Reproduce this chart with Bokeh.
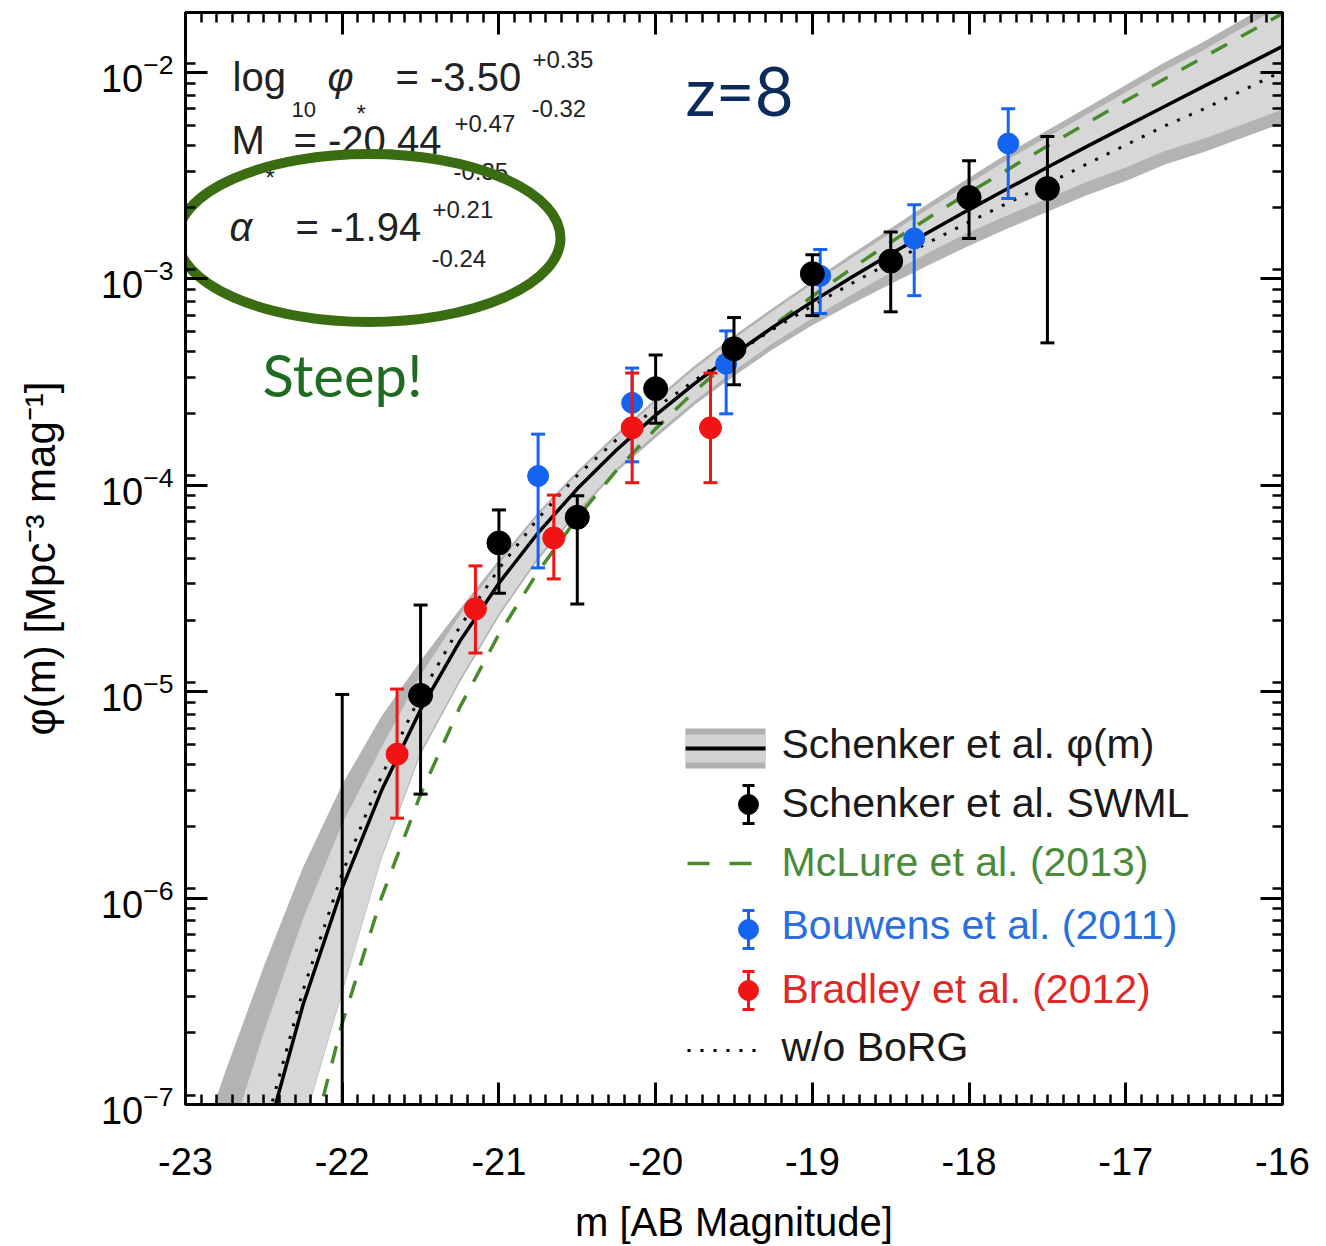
import numpy as np
from bokeh.plotting import figure
from bokeh.models import (Range1d, LinearAxis, LogAxis, LogTicker, SingleIntervalTicker, Label,
                          CustomJSTickFormatter)
from bokeh.embed import file_html
from bokeh.resources import INLINE

FONT = "Liberation Sans"

# ---------------- data ----------------
m_grid = [-23.0, -22.75, -22.5, -22.25, -22.0, -21.75, -21.5, -21.25, -21.0, -20.75,
          -20.5, -20.25, -20.0, -19.75, -19.5, -19.25, -19.0, -18.75, -18.5, -18.25,
          -18.0, -17.75, -17.5, -17.25, -17.0, -16.75, -16.5, -16.25, -16.0]

# Schenker et al. phi(m) best fit (log10 phi)
log_schenker = [-9.09, -8.05, -7.206, -6.517, -5.950, -5.480, -5.087, -4.756, -4.474, -4.230,
                -4.017, -3.829, -3.660, -3.506, -3.365, -3.233, -3.110, -2.992, -2.879, -2.770,
                -2.664, -2.561, -2.459, -2.359, -2.261, -2.163, -2.066, -1.970, -1.873]
# w/o BoRG (dotted)
log_noborg = [-9.02, -7.98, -7.136, -6.447, -5.880, -5.410, -5.017, -4.686, -4.404, -4.160,
              -3.952, -3.779, -3.625, -3.491, -3.365, -3.243, -3.130, -3.022, -2.919, -2.820,
              -2.724, -2.631, -2.539, -2.444, -2.351, -2.258, -2.176, -2.085, -1.993]
# confidence band edges (log10 phi)
band_upper_outer = [-7.40, -6.85, -6.33, -5.85, -5.45, -5.12, -4.85, -4.60, -4.36, -4.13,
                    -3.93, -3.75, -3.58, -3.42, -3.275, -3.14, -3.01, -2.88, -2.754, -2.63,
                    -2.51, -2.39, -2.28, -2.17, -2.06, -1.95, -1.85, -1.74, -1.63]
band_upper_inner = [-7.95, -7.25, -6.65, -6.10, -5.64, -5.27, -4.92, -4.63, -4.38, -4.145,
                    -3.945, -3.765, -3.595, -3.435, -3.29, -3.155, -3.025, -2.90, -2.777, -2.656,
                    -2.538, -2.42, -2.312, -2.204, -2.096, -1.988, -1.89, -1.782, -1.675]
band_lower_inner = [-10.0, -8.5, -7.75, -7.1, -6.45, -5.80, -5.29, -4.94, -4.62, -4.345,
                    -4.125, -3.92, -3.75, -3.59, -3.445, -3.31, -3.19, -3.077, -2.97, -2.87,
                    -2.774, -2.69, -2.61, -2.53, -2.46, -2.38, -2.32, -2.25, -2.18]
band_lower_outer = [-10.01, -8.51, -7.76, -7.11, -6.46, -5.81, -5.305, -4.955, -4.635, -4.36,
                    -4.14, -3.935, -3.77, -3.61, -3.47, -3.34, -3.225, -3.122, -3.025, -2.93,
                    -2.839, -2.755, -2.675, -2.595, -2.525, -2.445, -2.385, -2.315, -2.245]

# McLure et al. (2013) (dashed)
m_mclure = [-22.5, -22.25, -22.0, -21.75, -21.5, -21.25, -21.0, -20.75, -20.5, -20.25,
            -20.0, -19.75, -19.5, -19.25, -19.0, -18.75, -18.5, -18.25, -18.0, -17.75,
            -17.5, -17.25, -17.0, -16.75, -16.5, -16.25, -16.0]
log_mclure = [-8.246, -7.344, -6.606, -5.999, -5.497, -5.076, -4.721, -4.418, -4.157, -3.928,
              -3.726, -3.544, -3.378, -3.226, -3.084, -2.950, -2.822, -2.700, -2.582, -2.468,
              -2.356, -2.246, -2.137, -2.030, -1.924, -1.819, -1.714]

# Schenker et al. SWML points
swml_m = [-22.0, -21.5, -21.0, -20.5, -20.0, -19.5, -19.0, -18.5, -18.0, -17.5]
swml_phi = [3e-8, 9.6e-6, 5.26e-5, 7.0e-5, 2.94e-4, 4.59e-4, 1.06e-3, 1.22e-3, 2.48e-3, 2.74e-3]
swml_hi = [9.7e-6, 2.63e-5, 7.6e-5, 8.9e-5, 4.28e-4, 6.5e-4, 1.31e-3, 1.69e-3, 3.74e-3, 4.9e-3]
swml_lo = [1e-9, 3.19e-6, 3.0e-5, 2.66e-5, 2.0e-4, 3.07e-4, 6.64e-4, 6.93e-4, 1.57e-3, 4.9e-4]

# Bouwens et al. (2011)
bou_m = [-20.75, -20.15, -19.55, -18.95, -18.35, -17.75]
bou_phi = [1.11e-4, 2.51e-4, 3.88e-4, 1.035e-3, 1.57e-3, 4.53e-3]
bou_hi = [1.77e-4, 3.7e-4, 5.6e-4, 1.39e-3, 2.29e-3, 6.68e-3]
bou_lo = [3.98e-5, 1.30e-4, 2.22e-4, 6.8e-4, 8.3e-4, 2.45e-3]

# Bradley et al. (2012)
bra_m = [-21.65, -21.15, -20.65, -20.15, -19.65]
bra_phi = [4.98e-6, 2.52e-5, 5.56e-5, 1.9e-4, 1.9e-4]
bra_hi = [1.03e-5, 4.07e-5, 8.97e-5, 3.5e-4, 3.5e-4]
bra_lo = [2.44e-6, 1.54e-5, 3.52e-5, 1.03e-4, 1.03e-4]

x_label = "m [AB Magnitude]"
y_label = "\u03c6(m) [Mpc\u207b\u00b3 mag\u207b\u00b9]"

# ---------------- figure ----------------
X0, X1 = -23.0, -16.0
Y0, Y1 = 1e-7, 1.954e-2
BL, BT = 185, 12                       # border left / top (px)
FW, FH = 1097, 1092                    # frame size (px)

def dx(px):
    return X0 + (px - BL) / FW * (X1 - X0)

def dy(py):
    l0, l1 = np.log10(Y0), np.log10(Y1)
    return 10 ** (l1 - (py - BT) / FH * (l1 - l0))

p = figure(frame_width=FW, frame_height=FH, x_range=Range1d(X0, X1), y_range=Range1d(Y0, Y1),
           y_axis_type="log", output_backend="svg", toolbar_location=None,
           min_border_left=BL, min_border_right=30, min_border_top=BT, min_border_bottom=100)
p.xgrid.visible = False
p.ygrid.visible = False
p.outline_line_color = "black"
p.outline_line_width = 3
p.background_fill_color = "white"
p.border_fill_color = "white"

def style_axis(ax, labels=True):
    ax.axis_line_width = 3
    ax.axis_line_color = "black"
    ax.major_tick_in = 22
    ax.major_tick_out = 0
    ax.minor_tick_in = 10
    ax.minor_tick_out = 0
    ax.major_tick_line_width = 3
    ax.minor_tick_line_width = 2.5
    ax.major_label_text_font = FONT
    ax.major_label_text_font_size = "38px"
    ax.major_label_text_color = "black"
    ax.axis_label_text_font = FONT
    ax.axis_label_text_font_style = "normal"
    ax.axis_label_text_color = "black"
    if not labels:
        ax.formatter = CustomJSTickFormatter(code="return ''")
        ax.major_label_text_font_size = "1px"
        ax.major_label_standoff = 0

xax = p.xaxis[0]
xax.ticker = SingleIntervalTicker(interval=1, num_minor_ticks=10)
xax.formatter = CustomJSTickFormatter(code="return tick.toFixed(0)")
style_axis(xax)
xax.major_label_standoff = 43
xax.axis_label = x_label
xax.axis_label_text_font_size = "40px"
xax.axis_label_standoff = 22

yax = p.yaxis[0]
yax.ticker = LogTicker(num_minor_ticks=9)
style_axis(yax)
yax.major_label_standoff = 12
yax.axis_label = y_label
yax.axis_label_text_font_size = "42px"
yax.axis_label_standoff = 34

top = LinearAxis(ticker=SingleIntervalTicker(interval=1, num_minor_ticks=10))
style_axis(top, labels=False)
p.add_layout(top, "above")
right = LogAxis(ticker=LogTicker(num_minor_ticks=9))
style_axis(right, labels=False)
p.add_layout(right, "right")

# ---------------- band and curves ----------------
mg = np.array(m_grid)
p.varea(x=mg, y1=10 ** np.array(band_lower_outer), y2=10 ** np.array(band_upper_outer),
        fill_color="#b3b3b3")
p.varea(x=mg, y1=10 ** np.array(band_lower_inner), y2=10 ** np.array(band_upper_inner),
        fill_color="#d7d7d7")

GREEN = "#4a8a2e"
p.line(np.array(m_mclure), 10 ** np.array(log_mclure), line_color=GREEN, line_width=3.5,
       line_dash="18 16")
p.line(mg, 10 ** np.array(log_noborg), line_color="black", line_width=3, line_dash="3 10")
p.line(mg, 10 ** np.array(log_schenker), line_color="black", line_width=3.5)

BLUE = "#1464f0"
RED = "#f01414"

def points(xs, ys, lo, hi, color, size=22):
    p.segment(x0=xs, y0=lo, x1=xs, y1=hi, line_color=color, line_width=3)
    p.scatter(xs, lo, marker="dash", size=14, line_color=color, line_width=3)
    p.scatter(xs, hi, marker="dash", size=14, line_color=color, line_width=3)
    p.scatter(xs, ys, marker="circle", size=size, fill_color=color, line_color=color)

points(bou_m, bou_phi, bou_lo, bou_hi, BLUE, 21)
points(bra_m, bra_phi, bra_lo, bra_hi, RED, 22)
points(swml_m, swml_phi, swml_lo, swml_hi, "black", 24)

# ---------------- parameter text (under the ellipse) ----------------
def lab(text, px, py, size, color="#222222", style="normal", font=FONT, level="underlay"):
    # py is the wanted baseline on the page; correct for the renderer's baseline offset
    yb = py - 0.38 * size
    p.add_layout(Label(x=px - BL, y=(BT + FH) - yb, x_units="screen", y_units="screen",
                       text=text, text_font=font, text_font_size=f"{size}px",
                       text_color=color, text_font_style=style, text_baseline="alphabetic",
                       level=level))

BIG, SMALL = 40, 24
lab("log", 232, 92, BIG)
lab("10", 291, 117, 22)
lab("\u03c6", 327, 92, BIG, style="italic")
lab("*", 356, 122, 24)
lab("= -3.50", 395, 92, BIG)
lab("+0.35", 532, 68, SMALL)
lab("-0.32", 531, 117, SMALL)
lab("M", 231, 155, BIG)
lab("*", 265, 186, 24)
lab("= -20.44", 293, 155, BIG)
lab("+0.47", 454, 132, SMALL)
lab("-0.35", 453, 180, SMALL)
lab("\u03b1", 229, 242, BIG, style="italic")
lab("= -1.94", 295, 242, BIG)
lab("+0.21", 432, 218, SMALL)
lab("-0.24", 431, 267, SMALL)

p.ellipse(x=[dx(368.5)], y=[dy(237.5)], width=383, height=168,
          width_units="screen", height_units="screen",
          fill_alpha=0, line_color="#3a6c12", line_width=10)

lab("z=8", 685, 115, 67, color="#0b2b5c", font="Lato", level="annotation")
lab("Steep!", 262, 396, 58, color="#1f6b22", font="Lato", level="annotation")

# ---------------- legend ----------------
p.quad(left=[dx(685)], right=[dx(765)], top=[dy(728)], bottom=[dy(768)],
       fill_color="#b0b0b0", line_alpha=0)
p.quad(left=[dx(685)], right=[dx(765)], top=[dy(734)], bottom=[dy(762)],
       fill_color="#d4d4d4", line_alpha=0)
p.line([dx(685), dx(765)], [dy(748), dy(748)], line_color="black", line_width=4)

def leg_point(py, color, half=19):
    x = [dx(748)]
    p.segment(x0=x, y0=[dy(py - half)], x1=x, y1=[dy(py + half)], line_color=color, line_width=3)
    p.scatter(x, [dy(py - half)], marker="dash", size=12, line_color=color, line_width=3)
    p.scatter(x, [dy(py + half)], marker="dash", size=12, line_color=color, line_width=3)
    p.scatter(x, [dy(py)], marker="circle", size=20, fill_color=color, line_color=color)

leg_point(804, "black")
p.line([dx(687), dx(752)], [dy(863), dy(863)], line_color=GREEN, line_width=3.5, line_dash="22 20")
leg_point(929, BLUE)
leg_point(990, RED)
p.line([dx(687), dx(762)], [dy(1050), dy(1050)], line_color="black", line_width=3, line_dash="3 10")

LEGF = 41
lab("Schenker et al. \u03c6(m)", 781, 759, LEGF, color="#1a1a1a", level="annotation")
lab("Schenker et al. SWML", 781, 818, LEGF, color="#1a1a1a", level="annotation")
lab("McLure et al. (2013)", 781, 877, LEGF, color="#4a8a3a", level="annotation")
lab("Bouwens et al. (2011)", 781, 940, LEGF, color="#2a6ee0", level="annotation")
lab("Bradley et al. (2012)", 781, 1004, LEGF, color="#e02828", level="annotation")
lab("w/o BoRG", 781, 1062, LEGF, color="#1a1a1a", level="annotation")

open("out.html", "w").write(file_html(p, INLINE))
